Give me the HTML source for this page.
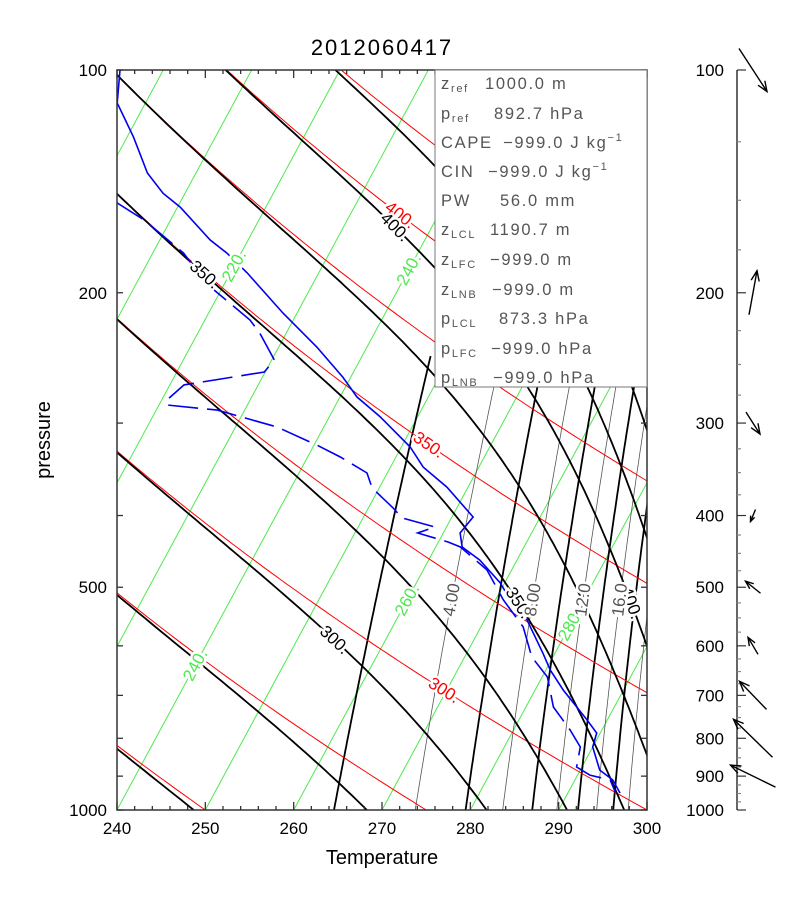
<!DOCTYPE html>
<html><head><meta charset="utf-8"><title>Skew-T 2012060417</title>
<style>
html,body{margin:0;padding:0;background:#fff;}
svg{display:block;font-family:"Liberation Sans",sans-serif;}
</style></head>
<body>
<svg id="chart" width="812" height="910" viewBox="0 0 812 910" xmlns="http://www.w3.org/2000/svg">
<defs><clipPath id="plotclip"><rect x="117" y="70" width="530" height="740"/></clipPath></defs>
<rect x="0" y="0" width="812" height="910" fill="#fff"/>
<text x="382" y="55" text-anchor="middle" font-size="22" letter-spacing="2" fill="#000">2012060417</text>
<g id="plot" clip-path="url(#plotclip)"></g>
<g id="labels"></g>
<g id="infobox">
<rect x="435" y="70" width="212" height="317" fill="#fff" stroke="#777" stroke-width="1"/>
<g font-size="16.5" fill="#555" letter-spacing="1.7">
<text x="441" y="89">z<tspan font-size="11" dy="3">ref</tspan></text><text x="485" y="89">1000.0 m</text>
<text x="441" y="119">p<tspan font-size="11" dy="3">ref</tspan></text><text x="494" y="119">892.7 hPa</text>
<text x="441" y="148">CAPE</text><text x="503" y="148">−999.0 J kg<tspan font-size="11" dy="-7">−1</tspan></text>
<text x="441" y="177">CIN</text><text x="488" y="177">−999.0 J kg<tspan font-size="11" dy="-7">−1</tspan></text>
<text x="441" y="206">PW</text><text x="500" y="206">56.0 mm</text>
<text x="441" y="235">z<tspan font-size="11" dy="3">LCL</tspan></text><text x="490" y="235">1190.7 m</text>
<text x="441" y="265">z<tspan font-size="11" dy="3">LFC</tspan></text><text x="490" y="265">−999.0 m</text>
<text x="441" y="295">z<tspan font-size="11" dy="3">LNB</tspan></text><text x="492" y="295">−999.0 m</text>
<text x="441" y="324">p<tspan font-size="11" dy="3">LCL</tspan></text><text x="499" y="324">873.3 hPa</text>
<text x="441" y="354">p<tspan font-size="11" dy="3">LFC</tspan></text><text x="491" y="354">−999.0 hPa</text>
<text x="441" y="383">p<tspan font-size="11" dy="3">LNB</tspan></text><text x="493" y="383">−999.0 hPa</text>
</g></g>
<g id="axes"></g>
<g id="winds"></g>
<text x="382" y="864" text-anchor="middle" font-size="20" fill="#000">Temperature</text>
<text x="0" y="0" transform="translate(50,440) rotate(-90)" text-anchor="middle" font-size="20" fill="#000">pressure</text>
</svg>
<script>
// ---- data ----
const tempP = [100,110.8,123.1,137.8,146.7,153.2,169.7,176.8,188.0,213.0,236.7,260.0,276.5,294.4,323.2,344.0,366.1,401.8,422.3,441.1,459.5,493.3,520.2,553.5,613.4,647.0,688.6,755.5,786.9,822.0,883.0,911.0,948.5];
const tempT = [195.1,196.8,200.7,204.5,207.5,210.3,215.7,218.4,221.9,228.4,234.3,239.1,241.9,245.8,251.0,253.7,257.6,262.4,261.9,263.0,265.8,269.5,271.7,274.8,278.6,280.5,283.2,287.7,289.6,290.0,292.2,294.3,295.9];
const dewP = [151.2,159.5,176.8,184.5,198.3,217.7,226.7,246.5,255.9,266.4,279.2,283.6,288.1,303.7,321.2,333.4,350.4,367.2,390.7,403.0,414.5,422.3,434.4,441.1,473.8,520.2,565.8,621.2,661.2,725.7,779.7,822.0,874.8,897.0,911.0,945.6];
const dewT = [202.9,207.0,213.5,215.5,219.2,225.1,227.0,230.3,229.9,221.6,220.6,220.9,226.9,234.7,240.3,243.7,247.7,249.2,252.8,254.4,258.7,257.1,261.1,262.8,267.2,270.9,274.8,277.6,280.6,283.1,286.4,288.6,289.4,291.4,294.0,295.3];
const windP = [100,200,300,400,500,600,700,800,900];
const windU = [14,4,7,-2.5,-7.5,-5,-13.5,-19.5,-22.5];
const windV = [-21.5,22,-11,-6,6,8.5,14,19,11];
const isotherms = [190,200,210,220,230,240,250,260,270,280,290,300];
const thetas = [200,225,250,275,300,325,350,375,400,425,450,475];
const thetaEs = [225,250,275,300,325,350,375,400,425,450,475,500];
const mixRatios = [2,4,6,8,10,12,14,16,18,20];
const pTicks = [100,200,500,1000];
const tTicks = [240,250,260,270,280,290,300];

// ---- axis functions ----
function yP(p){return 70+740*Math.log10(p/100);}
function xT(T,p){return 117+(T-240)*8.8333+0.54*(810-yP(p));}
const NS="http://www.w3.org/2000/svg";
function mk(tag,attrs,parent){const e=document.createElementNS(NS,tag);for(const k in attrs)e.setAttribute(k,attrs[k]);parent.appendChild(e);return e;}
const plot=document.getElementById('plot'), labels=document.getElementById('labels'), axes=document.getElementById('axes'), winds=document.getElementById('winds');
const pSamples=[];for(let i=0;i<=150;i++)pSamples.push(100*Math.pow(10,i/150));
function pathFrom(fn,ps){let d='';ps.forEach((p,i)=>{const T=fn(p);if(T==null)return;d+=(d?'L':'M')+xT(T,p).toFixed(1)+','+yP(p).toFixed(1);});return d;}
function es(T){return 6.112*Math.exp(17.67*(T-273.15)/(T-29.65));}
function thetaE(T,p){const e=es(T);const rs=0.622*e/(p-e);return T*Math.pow(1000/p,0.2857)*Math.exp(2.5e6*rs/(1004*T));}
function moistT(te,p){let lo=150,hi=330;for(let i=0;i<50;i++){const m=(lo+hi)/2;if(thetaE(m,p)>te)hi=m;else lo=m;}return (lo+hi)/2;}
function mixT(w,p){const e=w*p/(622+w);const l=Math.log(e/6.112);return 273.15+243.5*l/(17.67-l);}

// isotherms
isotherms.forEach(T=>{
  const el=mk('path',{d:pathFrom(()=>T,[100,1000]),stroke:'#4ee84e','stroke-width':1,fill:'none'},plot);
  
  
});
// mixing ratio lines
const mixP=pSamples.filter(p=>p>=240);
mixRatios.forEach(w=>{
  const thick=(w%4!==0);
  const el=mk('path',{d:pathFrom(p=>mixT(w,p),mixP),stroke:thick?'#000':'#555','stroke-width':thick?1.8:0.8,fill:'none'},plot);
  
  
});
// dry adiabats
thetas.forEach(th=>{
  const el=mk('path',{d:pathFrom(p=>th*Math.pow(p/1000,0.2857),pSamples),stroke:'#f00','stroke-width':1,fill:'none'},plot);
  
  
});
// moist adiabats
thetaEs.forEach(te=>{
  const el=mk('path',{d:pathFrom(p=>moistT(te,p),pSamples),stroke:'#000','stroke-width':1.8,fill:'none'},plot);
  
  
});
// soundings
const tPath=mk('path',{d:tempP.map((p,i)=>(i?'L':'M')+xT(tempT[i],p).toFixed(1)+','+yP(p).toFixed(1)).join(''),stroke:'#0000ee','stroke-width':1.6,fill:'none'},plot);


const dPath=mk('path',{d:dewP.map((p,i)=>(i?'L':'M')+xT(dewT[i],p).toFixed(1)+','+yP(p).toFixed(1)).join(''),stroke:'#0000ee','stroke-width':1.6,fill:'none','stroke-dasharray':'30 9'},plot);



// labels along lines
function lab(fn,p,text,color,size,name){
  const x1=xT(fn(p),p),y1=yP(p),x2=xT(fn(p*1.03),p*1.03),y2=yP(p*1.03);
  let a=Math.atan2(y2-y1,x2-x1)*180/Math.PI;if(a>90)a-=180;if(a<-90)a+=180;
  const t=mk('text',{x:0,y:0,transform:`translate(${x1.toFixed(1)},${y1.toFixed(1)}) rotate(${a.toFixed(1)})`,'text-anchor':'middle','dominant-baseline':'central','font-size':size,fill:color,stroke:'#fff','stroke-width':5,'paint-order':'stroke'},labels);
  t.textContent=text;
  
  
}
lab(p=>400*Math.pow(p/1000,0.2857),157,'400.','#f00',17,'dry-adiabat-label-400');
lab(p=>350*Math.pow(p/1000,0.2857),321,'350.','#f00',17,'dry-adiabat-label-350');
lab(p=>300*Math.pow(p/1000,0.2857),689,'300.','#f00',17,'dry-adiabat-label-300');
lab(p=>moistT(400,p),163,'400.','#000',17,'moist-adiabat-label-400-top');
lab(p=>moistT(350,p),189,'350.','#000',17,'moist-adiabat-label-350-top');
lab(p=>moistT(300,p),589,'300.','#000',17,'moist-adiabat-label-300');
lab(p=>moistT(350,p),525,'350.','#000',17,'moist-adiabat-label-350');
lab(p=>moistT(400,p),525,'400.','#000',17,'moist-adiabat-label-400');
lab(()=>220,184,'220.','#4ee84e',17,'isotherm-label-220');
lab(()=>240,186,'240.','#4ee84e',17,'isotherm-label-240-top');
lab(()=>240,637,'240.','#4ee84e',17,'isotherm-label-240');
lab(()=>260,520,'260.','#4ee84e',17,'isotherm-label-260');
lab(()=>280,562,'280.','#4ee84e',17,'isotherm-label-280');
[[4,'4.00'],[8,'8.00'],[12,'12.0'],[16,'16.0']].forEach(([w,s])=>lab(p=>mixT(w,p),520,s,'#555',17,'mixing-ratio-label-'+w));
// move info box above labels
const box=document.getElementById('infobox');box.parentNode.appendChild(box);

// axes frame
const frame=mk('rect',{x:117,y:70,width:530,height:740,fill:'none',stroke:'#333','stroke-width':1.5},axes);


for(let T=240;T<=300;T+=2){
  const x=117+(T-240)*8.8333, L=(T%10===0)?8:4;
  mk('line',{x1:x,y1:810,x2:x,y2:810-L,stroke:'#333','stroke-width':1.3},axes);
  mk('line',{x1:x,y1:70,x2:x,y2:70+L,stroke:'#333','stroke-width':1.3},axes);
}
for(let p=100;p<=1000;p+=100){
  const y=yP(p);
  mk('line',{x1:117,y1:y,x2:123,y2:y,stroke:'#333','stroke-width':1.3},axes);
  mk('line',{x1:647,y1:y,x2:641,y2:y,stroke:'#333','stroke-width':1.3},axes);
}
tTicks.forEach(T=>{
  const t=mk('text',{x:117+(T-240)*8.8333,y:834,'text-anchor':'middle','font-size':17,fill:'#000'},axes);
  t.textContent=T;
  
  
});
pTicks.forEach(p=>{
  const t=mk('text',{x:107,y:yP(p)+6,'text-anchor':'end','font-size':17,fill:'#000'},axes);
  t.textContent=p;
  
  
});

// wind panel
const wAxis=mk('line',{x1:737,y1:70,x2:737,y2:810,stroke:'#333','stroke-width':1.5},winds);


for(let p=100;p<=1000;p+=25){
  const major=(p%100===0);
  mk('line',{x1:737,y1:yP(p),x2:major?746:741,y2:yP(p),stroke:major?'#333':'#888','stroke-width':1.2},winds);
  if(major){
    const t=mk('text',{x:724,y:yP(p)+6,'text-anchor':'end','font-size':17,fill:'#000'},winds);
    t.textContent=p;
    
    
  }
}
windP.forEach((p,i)=>{
  const cx=753, cy=yP(p), dx=windU[i]*2, dy=-windV[i]*2;
  const x1=cx-dx/2,y1=cy-dy/2,x2=cx+dx/2,y2=cy+dy/2;
  const a=Math.atan2(y2-y1,x2-x1), h=Math.min(11,0.45*Math.hypot(dx,dy));
  const g=mk('g',{stroke:'#000','stroke-width':1.4,fill:'none'},winds);
  
  
  mk('line',{x1:x1,y1:y1,x2:x2,y2:y2},g);
  mk('path',{d:`M${x2-h*Math.cos(a-0.38)},${y2-h*Math.sin(a-0.38)}L${x2},${y2}L${x2-h*Math.cos(a+0.38)},${y2-h*Math.sin(a+0.38)}`},g);
});
</script>
</body></html>
